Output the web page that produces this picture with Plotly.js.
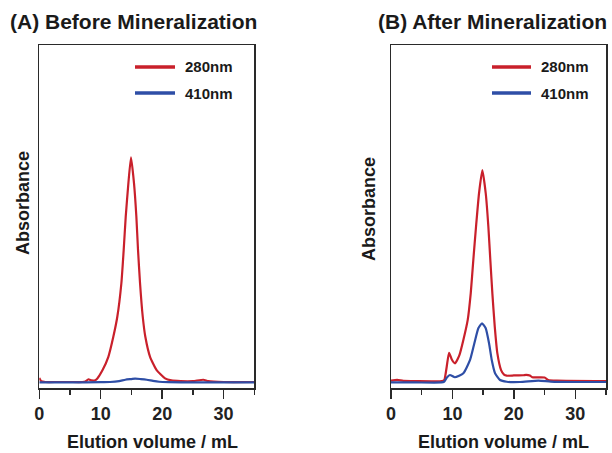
<!DOCTYPE html>
<html>
<head>
<meta charset="utf-8">
<script src="https://cdn.plot.ly/plotly-3.0.1.min.js"></script>
<style>html,body{margin:0;padding:0;background:#fff;}#chart{width:612px;height:453px;}</style>
</head>
<body>
<div id="chart"></div>
<script>
// ---- Data (relative absorbance, peak of panel A 280nm = ~1) ----
const volA280 = [0, 0.3, 1, 3, 5, 7, 7.5, 8.0, 8.5, 9.0, 9.45, 10.3, 11.24, 12.05, 12.7, 13.36, 13.74, 14.07, 14.5, 14.93, 15.42, 15.8, 16.07, 16.4, 16.84, 17.26, 18.03, 19.1, 20.47, 21.5, 23, 25, 26.7, 27.5, 30, 35];
const absA280 = [0.018, 0.004, 0, 0, 0, 0, 0.002, 0.012, 0.007, 0.007, 0.016, 0.053, 0.112, 0.201, 0.290, 0.439, 0.587, 0.735, 0.883, 0.999, 0.883, 0.735, 0.587, 0.439, 0.290, 0.201, 0.112, 0.053, 0.016, 0.007, 0.004, 0.004, 0.010, 0.004, 0, 0];

const volA410 = [0, 5, 10, 11.5, 13, 14, 15, 15.6, 16.5, 17.5, 18.5, 19.5, 21, 25, 30, 35];
const absA410 = [-0.002, -0.002, -0.001, 0, 0.004, 0.010, 0.013, 0.015, 0.013, 0.010, 0.005, 0.001, -0.001, -0.002, -0.002, -0.002];

const volB280 = [0, 1, 2, 4, 8.3, 8.68, 9.07, 9.45, 9.9, 10.42, 11.12, 11.78, 12.49, 12.98, 13.4, 13.84, 14.33, 14.87, 15.42, 15.85, 16.17, 16.5, 16.89, 17.31, 17.92, 18.4, 18.84, 20, 21.5, 22.0, 22.6, 23.0, 25.0, 25.6, 27, 35];
const absB280 = [0.006, 0.009, 0.005, 0.004, 0.004, 0.009, 0.068, 0.130, 0.100, 0.083, 0.118, 0.187, 0.276, 0.394, 0.542, 0.690, 0.839, 0.942, 0.839, 0.690, 0.542, 0.394, 0.246, 0.128, 0.053, 0.033, 0.028, 0.029, 0.030, 0.032, 0.029, 0.021, 0.020, 0.009, 0.006, 0.004];

const volB410 = [0, 4, 8.2, 8.63, 9.1, 9.6, 10.4, 11.78, 12.87, 13.57, 14.22, 14.82, 15.42, 15.96, 16.4, 16.94, 17.75, 18.84, 21, 24, 26, 30, 35];
const absB410 = [-0.002, -0.002, -0.002, 0.001, 0.020, 0.031, 0.021, 0.039, 0.098, 0.172, 0.239, 0.261, 0.239, 0.172, 0.098, 0.039, 0.009, 0.001, 0, 0.006, 0.002, 0, 0];

const seriesNames = ['280nm', '410nm'];
const panelTitles = ['(A) Before Mineralization', '(B) After Mineralization'];
const xTickVals = [0, 10, 20, 30];
const xTitle = 'Elution volume / mL';
const yTitle = 'Absorbance';

const RED = '#c9202b';
const BLUE = '#2e4ea6';
const FONT = 'Liberation Sans, Arial, Helvetica, sans-serif';

function tr(x, y, color, xa, ya) {
  return {x: x, y: y, type: 'scatter', mode: 'lines', xaxis: xa, yaxis: ya,
          line: {color: color, width: 2.2, shape: 'spline', smoothing: 0.5},
          showlegend: false, hoverinfo: 'skip'};
}

const data = [
  tr(volA280, absA280, RED, 'x', 'y'),
  tr(volA410, absA410, BLUE, 'x', 'y'),
  tr(volB280, absB280, RED, 'x2', 'y2'),
  tr(volB410, absB410, BLUE, 'x2', 'y2')
];

const W = 612, H = 453;
const px = v => v / W, py = v => (H - v) / H;

function xax(d) {
  return {domain: d, range: [0, 35], showline: true, mirror: true, linecolor: '#2a2a2a', linewidth: 1.5,
          showgrid: false, zeroline: false, ticks: 'outside', ticklen: 9, tickwidth: 1.5, tickcolor: '#2a2a2a',
          tickvals: xTickVals, ticktext: xTickVals.map(String),
          tickfont: {family: FONT, size: 18, color: '#222', weight: 'bold'},
          minor: {dtick: 5, tick0: 0, ticks: 'outside', ticklen: 5, tickwidth: 1.5, tickcolor: '#2a2a2a', showgrid: false},
          fixedrange: true};
}
function yax(anchor) {
  return {domain: [py(388), py(45)], range: [-0.0267, 1.498], showline: true, mirror: true, linecolor: '#2a2a2a',
          linewidth: 1.5, showgrid: false, zeroline: false, showticklabels: false, ticks: '', anchor: anchor, fixedrange: true};
}

const titleFont = {family: FONT, size: 21, color: '#1a1a1a', weight: 'bold'};
const axFont = {family: FONT, size: 18, color: '#1a1a1a', weight: 'bold'};
const legFont = {family: FONT, size: 15, color: '#1a1a1a', weight: 'bold'};

const annotations = [
  {text: panelTitles[0], x: px(8), y: py(21), xref: 'paper', yref: 'paper', xanchor: 'left', yanchor: 'middle', showarrow: false, font: titleFont},
  {text: panelTitles[1], x: px(376), y: py(21), xref: 'paper', yref: 'paper', xanchor: 'left', yanchor: 'middle', showarrow: false, font: titleFont},
  {text: xTitle, x: px(152.5), y: py(442), xref: 'paper', yref: 'paper', xanchor: 'center', yanchor: 'middle', showarrow: false, font: axFont},
  {text: xTitle, x: px(503), y: py(442), xref: 'paper', yref: 'paper', xanchor: 'center', yanchor: 'middle', showarrow: false, font: axFont},
  {text: yTitle, x: px(23), y: py(203), xref: 'paper', yref: 'paper', xanchor: 'center', yanchor: 'middle', textangle: -90, showarrow: false, font: axFont},
  {text: yTitle, x: px(369), y: py(209), xref: 'paper', yref: 'paper', xanchor: 'center', yanchor: 'middle', textangle: -90, showarrow: false, font: axFont},
  {text: seriesNames[0], x: px(183), y: py(67), xref: 'paper', yref: 'paper', xanchor: 'left', yanchor: 'middle', showarrow: false, font: legFont},
  {text: seriesNames[1], x: px(183), y: py(93), xref: 'paper', yref: 'paper', xanchor: 'left', yanchor: 'middle', showarrow: false, font: legFont},
  {text: seriesNames[0], x: px(539), y: py(67), xref: 'paper', yref: 'paper', xanchor: 'left', yanchor: 'middle', showarrow: false, font: legFont},
  {text: seriesNames[1], x: px(539), y: py(93), xref: 'paper', yref: 'paper', xanchor: 'left', yanchor: 'middle', showarrow: false, font: legFont}
];

function legLine(x0, x1, y, color) {
  return {type: 'line', xref: 'paper', yref: 'paper', x0: px(x0), x1: px(x1), y0: py(y), y1: py(y), line: {color: color, width: 3.5}};
}
const shapes = [
  legLine(135, 175, 67, RED), legLine(135, 175, 93, BLUE),
  legLine(492, 531, 67, RED), legLine(492, 531, 93, BLUE)
];

const layout = {
  width: W, height: H, margin: {l: 0, r: 0, t: 0, b: 0},
  paper_bgcolor: '#fff', plot_bgcolor: '#fff', showlegend: false,
  xaxis: xax([px(39.3), px(254.3)]),
  yaxis: yax('x'),
  xaxis2: xax([px(391), px(606)]),
  yaxis2: yax('x2'),
  annotations: annotations, shapes: shapes
};

Plotly.newPlot('chart', data, layout, {displayModeBar: false, staticPlot: true});
</script>
</body>
</html>
